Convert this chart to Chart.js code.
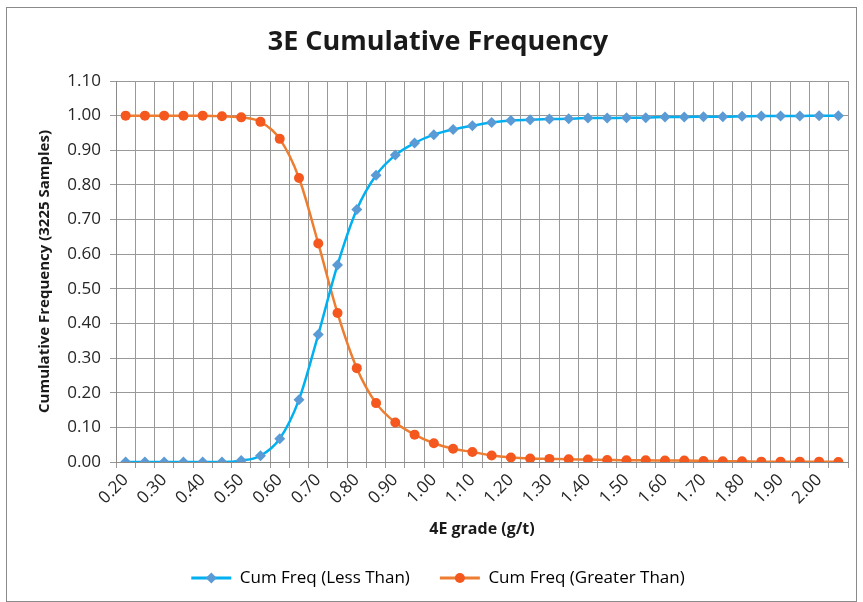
<!DOCTYPE html>
<html>
<head>
<meta charset="utf-8">
<script src="https://cdn.jsdelivr.net/npm/chart.js@4.4.1/dist/chart.umd.min.js"></script>
<style>
  html, body { margin: 0; padding: 0; background: #fff; }
  #wrap { position: relative; width: 863px; height: 602px; }
  #frame { position: absolute; left: 6px; top: 7px; width: 849px; height: 593px; border: 1px solid #8a8a8a; pointer-events: none; }
</style>
</head>
<body>
<div id="wrap">
  <canvas id="cumChart" width="863" height="602"></canvas>
  <div id="frame"></div>
</div>
<script>
// grade categories (g/t) - 0.20 to 2.05 step 0.05
const gradeLabels = ['0.20','0.25','0.30','0.35','0.40','0.45','0.50','0.55','0.60','0.65',
  '0.70','0.75','0.80','0.85','0.90','0.95','1.00','1.05','1.10','1.15',
  '1.20','1.25','1.30','1.35','1.40','1.45','1.50','1.55','1.60','1.65',
  '1.70','1.75','1.80','1.85','1.90','1.95','2.00','2.05'];

const cumLessThan = [0, 0, 0, 0, 0, 0, 0.004, 0.018, 0.067, 0.180,
  0.368, 0.569, 0.729, 0.828, 0.886, 0.921, 0.945, 0.960, 0.971, 0.980,
  0.986, 0.988, 0.990, 0.991, 0.993, 0.993, 0.994, 0.994, 0.996, 0.996,
  0.997, 0.997, 0.998, 0.999, 0.999, 0.999, 1.000, 1.000];

const cumGreaterThan = [1.000, 1.000, 1.000, 1.000, 1.000, 0.998, 0.995, 0.982, 0.933, 0.820,
  0.631, 0.430, 0.271, 0.170, 0.114, 0.079, 0.054, 0.038, 0.029, 0.019,
  0.013, 0.010, 0.009, 0.008, 0.007, 0.006, 0.005, 0.005, 0.004, 0.004,
  0.003, 0.002, 0.002, 0.001, 0.001, 0.001, 0.001, 0.000];

const yTicks = [0, 0.1, 0.2, 0.3, 0.4, 0.5, 0.6, 0.7, 0.8, 0.9, 1.0, 1.1];

const FONT = "'Open Sans', sans-serif";
const gridGray = '#999999';
const LEGEND_H = 56.5;

// legend: wide gap between items but a short box, and Excel style markers on the lines
const legendTweaks = {
    id: 'legendTweaks',
    beforeLayout(chart) {
        const lg = chart.legend;
        if (lg && !lg._fixedHeight) {
            const origFit = lg.fit;
            lg.fit = function () {
                origFit.call(this);
                this.height = LEGEND_H;
            };
            lg._fixedHeight = true;
        }
    },
    afterDraw(chart) {
        const legend = chart.legend;
        if (!legend || !legend.legendHitBoxes) return;
        const ctx = chart.ctx;
        const boxW = legend.options.labels.boxWidth;
        legend.legendHitBoxes.forEach((hb, i) => {
            const ds = chart.data.datasets[i];
            const cx = hb.left + boxW / 2;
            const cy = hb.top + hb.height / 2;
            ctx.save();
            ctx.fillStyle = ds.pointBackgroundColor;
            ctx.beginPath();
            if (ds.pointStyle === 'rectRot') {
                const r = 5.5;
                ctx.moveTo(cx, cy - r);
                ctx.lineTo(cx + r, cy);
                ctx.lineTo(cx, cy + r);
                ctx.lineTo(cx - r, cy);
                ctx.closePath();
            } else {
                ctx.arc(cx, cy, 5, 0, Math.PI * 2);
            }
            ctx.fill();
            ctx.restore();
        });
    }
};

// keep the plot area where the reference has it
function noScalePadding(s) {
    s.paddingLeft = 0;
    s.paddingRight = 0;
    s.paddingTop = 0;
    s.paddingBottom = 0;
}

const ctx = document.getElementById('cumChart').getContext('2d');
new Chart(ctx, {
    type: 'line',
    data: {
        labels: gradeLabels,
        datasets: [{
            label: 'Cum Freq (Less Than)',
            data: cumLessThan,
            borderColor: '#00B0F0',
            backgroundColor: '#00B0F0',
            borderWidth: 2.5,
            pointStyle: 'rectRot',
            pointRadius: 5.5,
            pointBackgroundColor: '#5B9BD5',
            pointBorderColor: '#5B9BD5',
            pointBorderWidth: 0,
            cubicInterpolationMode: 'monotone',
            fill: false
        }, {
            label: 'Cum Freq (Greater Than)',
            data: cumGreaterThan,
            borderColor: '#ED7D31',
            backgroundColor: '#ED7D31',
            borderWidth: 2.5,
            pointStyle: 'circle',
            pointRadius: 5,
            pointBackgroundColor: '#F4581E',
            pointBorderColor: '#F4581E',
            pointBorderWidth: 0,
            cubicInterpolationMode: 'monotone',
            fill: false
        }]
    },
    options: {
        responsive: false,
        animation: false,
        layout: { padding: { left: 28, right: 15, top: 12, bottom: 6 } },
        scales: {
            x: {
                type: 'category',
                offset: true,
                afterFit: s => { s.height = 77.5; noScalePadding(s); },
                grid: { offset: true, color: gridGray, lineWidth: 1, tickLength: 6, drawOnChartArea: true },
                border: { color: '#8a8a8a' },
                ticks: {
                    autoSkip: false,
                    maxRotation: 45,
                    minRotation: 45,
                    color: '#262626',
                    font: { family: FONT, size: 17 },
                    padding: 2,
                    callback: function (val, idx) { return idx % 2 === 0 ? gradeLabels[idx] : ''; }
                },
                title: {
                    display: true,
                    text: '4E grade (g/t)',
                    color: '#1a1a1a',
                    font: { family: FONT, size: 16, weight: 'bold' },
                    padding: { top: 0, bottom: 0 }
                }
            },
            y: {
                min: 0,
                max: 1.1,
                afterFit: s => { s.width = 116 - 28; noScalePadding(s); },
                afterBuildTicks: s => { s.ticks = yTicks.map(v => ({ value: v })); },
                grid: { color: gridGray, lineWidth: 1, tickLength: 6 },
                border: { color: '#8a8a8a' },
                ticks: {
                    color: '#262626',
                    font: { family: FONT, size: 17 },
                    padding: 9,
                    callback: v => Number(v).toFixed(2)
                },
                title: {
                    display: true,
                    text: 'Cumulative Frequency (3225 Samples)',
                    color: '#1a1a1a',
                    font: { family: FONT, size: 15, weight: 'bold' },
                    padding: { top: 8, bottom: 0 }
                }
            }
        },
        plugins: {
            title: {
                display: true,
                text: '3E Cumulative Frequency',
                color: '#1a1a1a',
                font: { family: FONT, size: 27, weight: 'bold' },
                padding: { top: 14, bottom: 22.6 }
            },
            legend: {
                position: 'bottom',
                labels: {
                    color: '#262626',
                    font: { family: FONT, size: 17 },
                    boxWidth: 40,
                    boxHeight: 3,
                    padding: 30,
                    generateLabels: chart => chart.data.datasets.map((ds, i) => ({
                        text: ds.label,
                        fillStyle: ds.borderColor,
                        strokeStyle: ds.borderColor,
                        lineWidth: 0,
                        datasetIndex: i,
                        hidden: false
                    }))
                }
            },
            tooltip: { enabled: false }
        }
    },
    plugins: [legendTweaks]
});
</script>
</body>
</html>
